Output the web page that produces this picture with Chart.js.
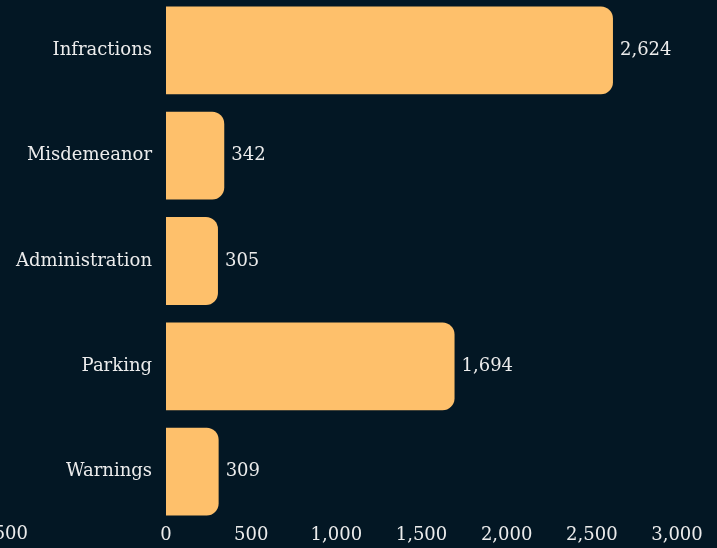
<!DOCTYPE html>
<html>
<head>
<meta charset="utf-8">
<script src="https://cdn.jsdelivr.net/npm/chart.js@4/dist/chart.umd.min.js"></script>
<style>
  html, body { margin: 0; padding: 0; background: #031724; overflow: hidden; }
  #wrap { position: absolute; left: 0; top: -27px; width: 717px; height: 576px; }
</style>
</head>
<body>
<div id="wrap"><canvas id="chart"></canvas></div>
<script>
const categories = ['Infractions', 'Misdemeanor', 'Administration', 'Parking', 'Warnings'];
const counts = [2624, 342, 305, 1694, 309];
const xTicks = [0, 500, 1000, 1500, 2000, 2500, 3000];
const strayLabel = '2,500'; // clipped label visible at the bottom-left edge

const textColor = '#ececec';
const barColor = '#fec06b';
const fontFamily = '"DejaVu Serif", serif';
const fontSize = 18;

const fmt = v => Number(v).toLocaleString('en-US');

// value labels at the end of each bar + clipped stray tick text
const valueLabels = {
    id: 'valueLabels',
    afterDatasetsDraw(chart) {
        const ctx = chart.ctx;
        const meta = chart.getDatasetMeta(0);
        ctx.save();
        ctx.font = fontSize + 'px ' + fontFamily;
        ctx.fillStyle = textColor;
        ctx.textBaseline = 'middle';
        ctx.textAlign = 'left';
        meta.data.forEach((bar, i) => {
            ctx.fillText(fmt(counts[i]), bar.x + 7, bar.y);
        });
        const xScale = chart.scales.x;
        ctx.textAlign = 'right';
        ctx.fillText(strayLabel, 28, xScale.top + 10);
        ctx.restore();
    }
};

new Chart(document.getElementById('chart'), {
    type: 'bar',
    data: {
        labels: categories,
        datasets: [{
            data: counts,
            backgroundColor: barColor,
            borderRadius: 12,
            borderSkipped: 'start',
            barPercentage: 0.834,
            categoryPercentage: 1
        }]
    },
    options: {
        indexAxis: 'y',
        responsive: true,
        maintainAspectRatio: false,
        animation: false,
        layout: { autoPadding: false, padding: { left: 0, right: 40, top: 0, bottom: 0 } },
        scales: {
            x: {
                min: 0,
                max: 3000,
                afterBuildTicks: axis => { axis.ticks = xTicks.map(v => ({ value: v })); },
                grid: { display: false, drawTicks: false },
                border: { display: false },
                ticks: {
                    color: textColor,
                    font: { family: fontFamily, size: fontSize },
                    padding: 0,
                    maxRotation: 0,
                    callback: v => fmt(v)
                }
            },
            y: {
                grid: { display: false, drawTicks: false },
                border: { display: false },
                afterFit: axis => { axis.width = 166; },
                ticks: {
                    color: textColor,
                    font: { family: fontFamily, size: fontSize },
                    padding: 14
                }
            }
        },
        plugins: {
            legend: { display: false },
            tooltip: { enabled: false }
        }
    },
    plugins: [valueLabels]
});
</script>
</body>
</html>
